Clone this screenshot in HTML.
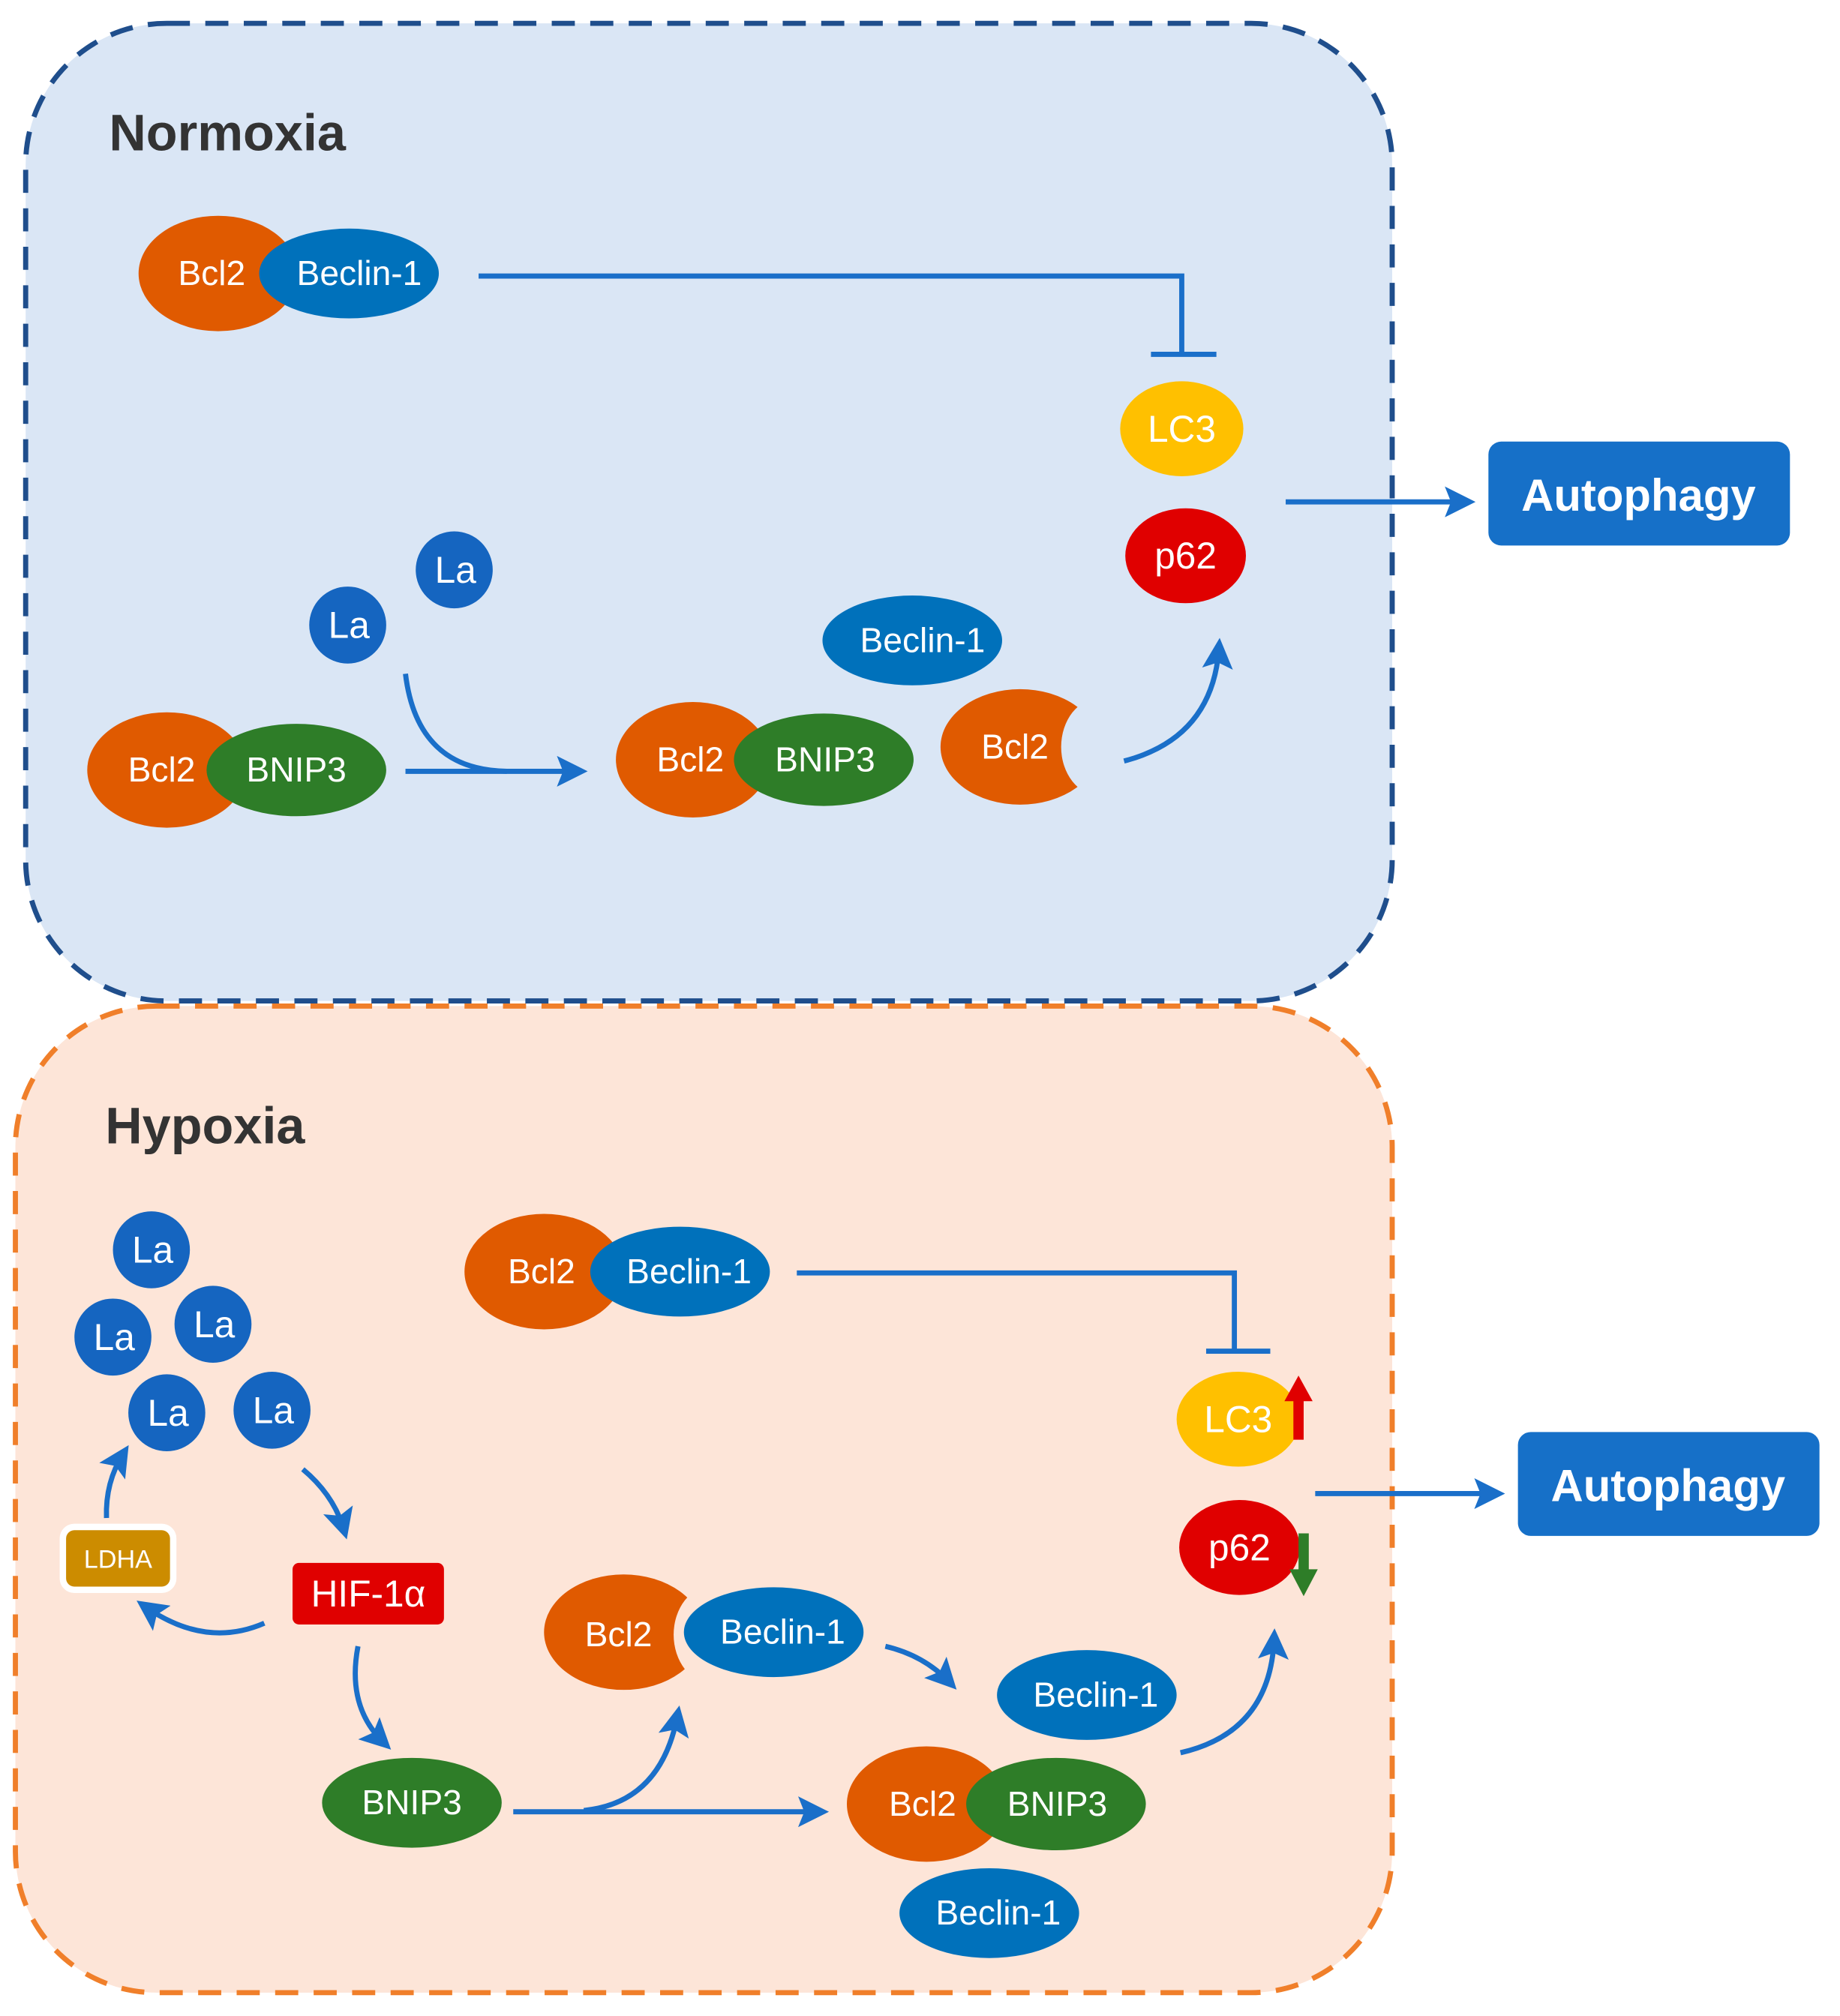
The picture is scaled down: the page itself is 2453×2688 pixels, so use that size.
<!DOCTYPE html>
<html><head><meta charset="utf-8"><style>
html,body{margin:0;padding:0;background:#fff;}
svg{display:block;}
text{font-family:"Liberation Sans",Arial,sans-serif;}
</style></head><body>
<svg width="2453" height="2688" viewBox="0 0 1434 1571" xmlns="http://www.w3.org/2000/svg">
<defs>
<marker id="ah" markerWidth="6" markerHeight="6" refX="4" refY="3" orient="auto" markerUnits="strokeWidth">
<path d="M0,0 L6,3 L0,6 L1.2,3 z" fill="#1a6fc9"/>
</marker>
<mask id="m1"><rect x="0" y="0" width="1434" height="1571" fill="#fff"/><ellipse cx="857" cy="582" rx="30" ry="38" fill="#000"/></mask>
<mask id="m2"><rect x="0" y="0" width="1434" height="1571" fill="#fff"/><ellipse cx="555" cy="1274" rx="30" ry="38" fill="#000"/></mask>
</defs>
<rect width="1434" height="1571" fill="#fff"/>
<rect x="20" y="18" width="1065" height="762" rx="110" fill="#dae6f5" stroke="#1f4e8c" stroke-width="4" stroke-dasharray="18,12"/>
<rect x="12" y="784" width="1073" height="769" rx="110" fill="#fde5d8" stroke="#f07f2a" stroke-width="4" stroke-dasharray="18,12"/>
<text x="85" y="117" font-size="40" font-weight="bold" fill="#333">Normoxia</text>
<text x="82" y="891" font-size="40" font-weight="bold" fill="#333">Hypoxia</text>

<g fill="none" stroke="#1a6fc9" stroke-width="4">
<polyline points="373,215 921,215 921,275"/>
<line x1="897" y1="276" x2="948" y2="276"/>
<line x1="1002" y1="391" x2="1142" y2="391" marker-end="url(#ah)"/>
<line x1="316" y1="601" x2="450" y2="601" marker-end="url(#ah)"/>
<path d="M316,525 Q325,600 395,601"/>
<path d="M876,593 Q945,575 950,505" marker-end="url(#ah)"/>
<polyline points="621,992 962,992 962,1052"/>
<line x1="940" y1="1053" x2="990" y2="1053"/>
<line x1="1025" y1="1164" x2="1165" y2="1164" marker-end="url(#ah)"/>
<path d="M236,1145 Q260,1165 268,1192" marker-end="url(#ah)"/>
<path d="M206,1265 Q160,1285 113,1252" marker-end="url(#ah)"/>
<path d="M83,1183 Q82,1155 96,1133" marker-end="url(#ah)"/>
<path d="M279,1283 Q270,1330 299,1358" marker-end="url(#ah)"/>
<line x1="400" y1="1412" x2="638" y2="1412" marker-end="url(#ah)"/>
<path d="M455,1411 Q515,1405 528,1337" marker-end="url(#ah)"/>
<path d="M690,1283 Q720,1290 740,1311" marker-end="url(#ah)"/>
<path d="M920,1366 Q990,1350 993,1277" marker-end="url(#ah)"/>
</g>

<g font-size="27" fill="#fff" text-anchor="middle">
<ellipse cx="170" cy="213" rx="62" ry="45" fill="#e05a00"/>
<ellipse cx="272" cy="213" rx="70" ry="35" fill="#0071bb"/>
<text x="165" y="222">Bcl2</text><text x="280" y="222">Beclin-1</text>
<ellipse cx="921" cy="334" rx="48" ry="37" fill="#ffc000"/><text x="921" y="344" font-size="29">LC3</text>
<ellipse cx="924" cy="433" rx="47" ry="37" fill="#e00000"/><text x="924" y="443" font-size="29">p62</text>
<rect x="1160" y="344" width="235" height="81" rx="10" fill="#1670c8"/>
<text x="1277" y="398" font-size="35" font-weight="bold">Autophagy</text>
<circle cx="354" cy="444" r="30" fill="#1565c0"/><text x="355" y="454" font-size="29">La</text>
<circle cx="271" cy="487" r="30" fill="#1565c0"/><text x="272" y="497" font-size="29">La</text>
<ellipse cx="130" cy="600" rx="62" ry="45" fill="#e05a00"/>
<ellipse cx="231" cy="600" rx="70" ry="36" fill="#2e7d28"/>
<text x="126" y="609">Bcl2</text><text x="231" y="609">BNIP3</text>
<ellipse cx="540" cy="592" rx="60" ry="45" fill="#e05a00"/>
<ellipse cx="642" cy="592" rx="70" ry="36" fill="#2e7d28"/>
<text x="538" y="601">Bcl2</text><text x="643" y="601">BNIP3</text>
<ellipse cx="711" cy="499" rx="70" ry="35" fill="#0071bb"/><text x="719" y="508">Beclin-1</text>
<ellipse cx="795" cy="582" rx="62" ry="45" fill="#e05a00" mask="url(#m1)"/><text x="791" y="591">Bcl2</text>

<ellipse cx="424" cy="991" rx="62" ry="45" fill="#e05a00"/>
<ellipse cx="530" cy="991" rx="70" ry="35" fill="#0071bb"/>
<text x="422" y="1000">Bcl2</text><text x="537" y="1000">Beclin-1</text>
<ellipse cx="965" cy="1106" rx="48" ry="37" fill="#ffc000"/><text x="965" y="1116" font-size="29">LC3</text>
<rect x="1008" y="1090" width="8" height="32" fill="#e00000"/><path d="M1001,1092 L1012,1072 L1023,1092 z" fill="#e00000"/>
<ellipse cx="966" cy="1206" rx="47" ry="37" fill="#e00000"/><text x="966" y="1216" font-size="29">p62</text>
<rect x="1012" y="1195" width="8" height="32" fill="#2e7d28"/><path d="M1005,1223 L1016,1244 L1027,1223 z" fill="#2e7d28"/>
<rect x="1183" y="1116" width="235" height="81" rx="10" fill="#1670c8"/>
<text x="1300" y="1170" font-size="35" font-weight="bold">Autophagy</text>
<circle cx="118" cy="974" r="30" fill="#1565c0"/><text x="119" y="984" font-size="29">La</text>
<circle cx="88" cy="1042" r="30" fill="#1565c0"/><text x="89" y="1052" font-size="29">La</text>
<circle cx="166" cy="1032" r="30" fill="#1565c0"/><text x="167" y="1042" font-size="29">La</text>
<circle cx="130" cy="1101" r="30" fill="#1565c0"/><text x="131" y="1111" font-size="29">La</text>
<circle cx="212" cy="1099" r="30" fill="#1565c0"/><text x="213" y="1109" font-size="29">La</text>
<rect x="49" y="1190" width="86" height="49" rx="9" fill="#cc8c00" stroke="#fff" stroke-width="5"/>
<text x="92" y="1222" font-size="20">LDHA</text>
<rect x="228" y="1218" width="118" height="48" rx="5" fill="#e00000"/>
<text x="287" y="1252" font-size="29">HIF-1α</text>
<ellipse cx="321" cy="1405" rx="70" ry="35" fill="#2e7d28"/><text x="321" y="1414">BNIP3</text>
<ellipse cx="486" cy="1272" rx="62" ry="45" fill="#e05a00" mask="url(#m2)"/><text x="482" y="1283">Bcl2</text>
<ellipse cx="603" cy="1272" rx="70" ry="35" fill="#0071bb"/><text x="610" y="1281">Beclin-1</text>
<ellipse cx="847" cy="1321" rx="70" ry="35" fill="#0071bb"/><text x="854" y="1330">Beclin-1</text>
<ellipse cx="722" cy="1406" rx="62" ry="45" fill="#e05a00"/>
<ellipse cx="823" cy="1406" rx="70" ry="36" fill="#2e7d28"/>
<text x="719" y="1415">Bcl2</text><text x="824" y="1415">BNIP3</text>
<ellipse cx="771" cy="1491" rx="70" ry="35" fill="#0071bb"/><text x="778" y="1500">Beclin-1</text>
</g>
</svg>
</body></html>
